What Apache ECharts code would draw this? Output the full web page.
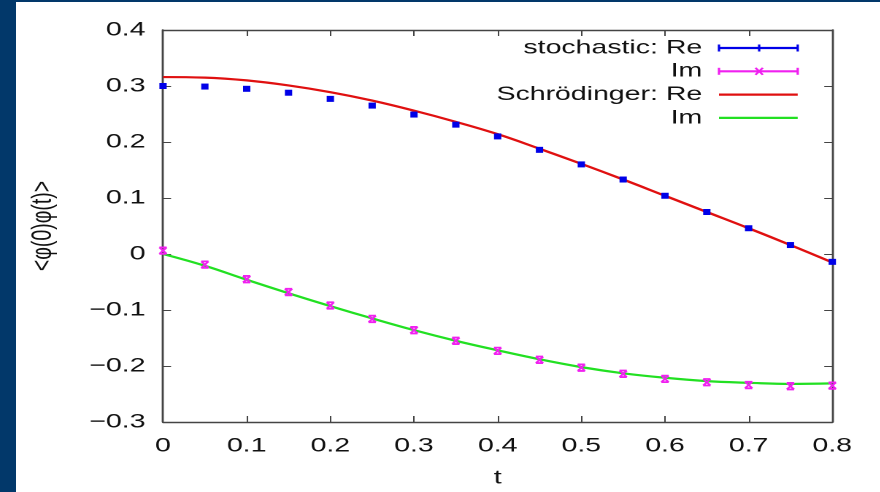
<!DOCTYPE html>
<html>
<head>
<meta charset="utf-8">
<script src="https://cdn.jsdelivr.net/npm/echarts@6/dist/echarts.min.js"></script>
<style>
  html, body { margin: 0; padding: 0; background: #02386a; width: 880px; height: 492px; overflow: hidden; }
  #frame { position: absolute; left: 16px; top: 2px; width: 864px; height: 490px; background: #fff; overflow: hidden; }
  /* the reference is stretched sideways, so the chart is drawn narrow and widened */
  #chart { width: 591.8px; height: 490px; transform: scaleX(1.46); transform-origin: 0 0; }
</style>
</head>
<body>
<div id="frame"><div id="chart"></div></div>
<script>
// time values
var tValues = [0, 0.05, 0.1, 0.15, 0.2, 0.25, 0.3, 0.35, 0.4, 0.45, 0.5, 0.55, 0.6, 0.65, 0.7, 0.75, 0.8];
// stochastic result (points)
var stochRe = [0.300, 0.299, 0.295, 0.288, 0.277, 0.265, 0.249, 0.231, 0.210, 0.186, 0.160, 0.133, 0.104, 0.075, 0.046, 0.016, -0.014];
var stochIm = [0.006, -0.019, -0.045, -0.068, -0.092, -0.116, -0.136, -0.155, -0.173, -0.189, -0.203, -0.214, -0.223, -0.229, -0.234, -0.236, -0.235];
// Schrödinger result (curves)
var schrRe = [0.316, 0.315, 0.310, 0.301, 0.289, 0.274, 0.256, 0.236, 0.214, 0.188, 0.161, 0.133, 0.104, 0.075, 0.046, 0.016, -0.015];
var schrIm = [0.000, -0.021, -0.046, -0.070, -0.093, -0.115, -0.136, -0.155, -0.172, -0.188, -0.202, -0.213, -0.221, -0.227, -0.230, -0.232, -0.231];
// legend texts
var legendNames = ['stochastic: Re', 'Im', 'Schrödinger: Re', 'Im'];

var FONT = 'Liberation Sans';
var AXIS = '#444';
var colors = { re: '#0000e8', im: '#f020f0', sRe: '#e01010', sIm: '#22e022' };

function pairs(ys) {
  return tValues.map(function (t, i) { return [t, ys[i]]; });
}
function fmtY(v) {
  if (Math.abs(v) < 1e-9) return '0';
  return v < 0 ? '\u2212' + (-v).toFixed(1) : v.toFixed(1);
}
function fmtX(v) {
  return Math.abs(v) < 1e-9 ? '0' : v.toFixed(1);
}

var crossPath = 'path://M0,0L10,0M0,10L10,10M0,0L10,10M10,0L0,10';

var xBase = { type: 'value', min: 0, max: 0.8, interval: 0.1,
  axisLine: { show: true, onZero: false, lineStyle: { color: AXIS, width: 1.4 } },
  axisTick: { show: true, inside: true, length: 6, lineStyle: { color: AXIS, width: 1 } },
  splitLine: { show: false } };
var yBase = { type: 'value', min: -0.3, max: 0.4, interval: 0.1,
  axisLine: { show: true, onZero: false, lineStyle: { color: AXIS, width: 1.4 } },
  axisTick: { show: true, inside: true, length: 5.5, lineStyle: { color: AXIS, width: 1 } },
  splitLine: { show: false } };

var chart = echarts.init(document.getElementById('chart'), null, { devicePixelRatio: 2 });

// hand-drawn key, gnuplot style: text right aligned, sample on the right
var lx1 = 481.5, lx2 = 535.4, lmid = 509, tx = 470;
var rows = [46, 69.3, 92.6, 115.9];
var legendColors = [colors.re, colors.im, colors.sRe, colors.sIm];
var graphics = [];
rows.forEach(function (y, i) {
  graphics.push({ type: 'text', x: tx, y: y,
    style: { text: legendNames[i], fill: '#111', font: '19.5px ' + FONT, textAlign: 'right', textVerticalAlign: 'middle' } });
  graphics.push({ type: 'line', shape: { x1: lx1, y1: y, x2: lx2, y2: y },
    style: { stroke: legendColors[i], lineWidth: 2.2 } });
  if (i < 2) {
    graphics.push({ type: 'line', shape: { x1: lx1, y1: y - 3.5, x2: lx1, y2: y + 3.5 }, style: { stroke: legendColors[i], lineWidth: 1.6 } });
    graphics.push({ type: 'line', shape: { x1: lx2, y1: y - 3.5, x2: lx2, y2: y + 3.5 }, style: { stroke: legendColors[i], lineWidth: 1.6 } });
  }
  if (i === 0) {
    graphics.push({ type: 'line', shape: { x1: lmid, y1: y - 3.5, x2: lmid, y2: y + 3.5 }, style: { stroke: colors.re, lineWidth: 1.6 } });
  }
  if (i === 1) {
    graphics.push({ type: 'polyline', shape: { points: [[lmid - 2.5, y - 3.5], [lmid + 2.5, y + 3.5]] }, style: { stroke: colors.im, lineWidth: 1.6 } });
    graphics.push({ type: 'polyline', shape: { points: [[lmid + 2.5, y - 3.5], [lmid - 2.5, y + 3.5]] }, style: { stroke: colors.im, lineWidth: 1.6 } });
  }
});

chart.setOption({
  backgroundColor: '#fff',
  animation: false,
  textStyle: { fontFamily: FONT },
  grid: { left: 100.7, right: 32.9, top: 28, bottom: 70, outerBoundsMode: 'none', containLabel: false },
  xAxis: [
    Object.assign({}, xBase, { position: 'bottom', name: 't', nameLocation: 'middle', nameGap: 46,
      nameTextStyle: { fontSize: 19.5, color: '#111', fontFamily: FONT },
      axisLabel: { margin: 14, fontSize: 19.5, color: '#111', fontFamily: FONT, formatter: fmtX } }),
    Object.assign({}, xBase, { position: 'top', axisLabel: { show: false } })
  ],
  yAxis: [
    Object.assign({}, yBase, { position: 'left', name: '<φ(0)φ(t)>', nameLocation: 'middle', nameGap: 72,
      nameTextStyle: { fontSize: 19.5, color: '#111', fontFamily: FONT },
      axisLabel: { margin: 12, fontSize: 19.5, color: '#111', fontFamily: FONT, formatter: fmtY } }),
    Object.assign({}, yBase, { position: 'right', axisLabel: { show: false } })
  ],
  graphic: graphics,
  series: [
    { name: 'Schrödinger: Re', type: 'line', data: pairs(schrRe), smooth: 0.4, showSymbol: false,
      lineStyle: { color: colors.sRe, width: 2.2 }, z: 2 },
    { name: 'Schrödinger: Im', type: 'line', data: pairs(schrIm), smooth: 0.4, showSymbol: false,
      lineStyle: { color: colors.sIm, width: 2.2 }, z: 2 },
    { name: 'stochastic: Re', type: 'scatter', data: pairs(stochRe), symbol: 'rect', symbolSize: [5, 6],
      itemStyle: { color: colors.re, opacity: 1 }, z: 3 },
    { name: 'stochastic: Im', type: 'scatter', data: pairs(stochIm), symbol: crossPath, symbolSize: [5, 6.5],
      itemStyle: { color: 'none', borderColor: colors.im, borderWidth: 1.6, opacity: 1 }, z: 3 }
  ]
});
</script>
</body>
</html>
